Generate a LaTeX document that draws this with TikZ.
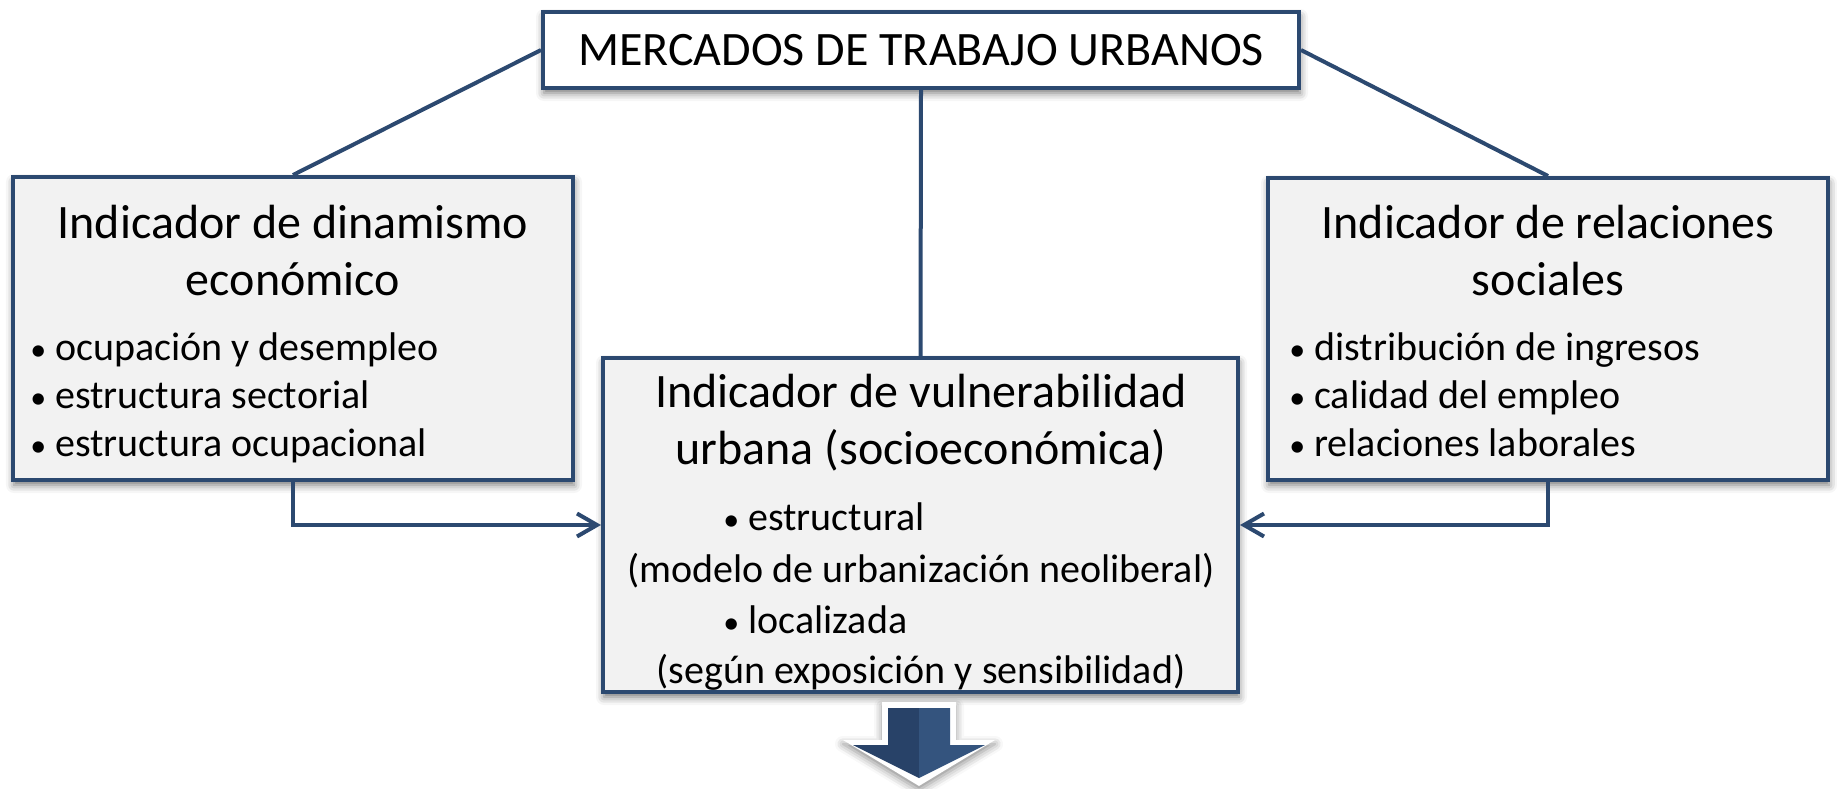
\documentclass[tikz,border=0pt]{standalone}
\usepackage{fontspec}
\setmainfont{Carlito}
\usetikzlibrary{arrows.meta,shadows.blur}
\definecolor{linecol}{RGB}{44,73,112}
\definecolor{boxfill}{RGB}{242,242,242}
\definecolor{arrowdark}{RGB}{40,66,104}
\definecolor{arrowlight}{RGB}{52,84,126}
\newcommand{\bul}{{\fontsize{16}{16}\selectfont•} }
\tikzset{
  box/.style={draw=linecol,line width=2pt,fill=boxfill,
    blur shadow={shadow xshift=0.5pt,shadow yshift=-2.5pt,shadow blur radius=4pt,shadow opacity=55}},
  title/.style={font=\fontsize{24}{28.5}\selectfont,align=center,inner sep=0pt},
  items/.style={font=\fontsize{20}{24}\selectfont,align=left,inner sep=0pt},
  line/.style={font=\fontsize{20}{24}\selectfont,inner sep=0pt},
  link/.style={draw=linecol,line width=2pt},
  feed/.style={link,-{Straight Barb[length=10pt,width=11.5pt,line width=2pt]}}
}
\begin{document}
\begin{tikzpicture}[x=0.5pt,y=-0.5pt]
  \useasboundingbox (0,0) rectangle (1837,788);
  \node[box,fill=white,minimum width=378pt,minimum height=38pt,
    font=\fontsize{24}{28.5}\selectfont] at (921,50) (mercados) {MERCADOS DE TRABAJO URBANOS};
  \node[box,minimum width=280pt,minimum height=151.5pt] at (293,328.5) (dinamismo) {};
  \node[box,minimum width=280pt,minimum height=151pt] at (1548,329) (relaciones) {};
  \node[box,minimum width=317.5pt,minimum height=167pt] at (920.5,525) (vulnerab) {};
  \node[title,anchor=base] at (293,295) (dinamtit) {Indicador de dinamismo\\económico};
  \node[items,anchor=base west] at (30,456) (dinamlist)
    {\bul ocupación y desempleo\\\bul estructura sectorial\\\bul estructura ocupacional};
  \node[title,anchor=base] at (1548,295) (relactit) {Indicador de relaciones\\sociales};
  \node[items,anchor=base west] at (1289,456) (relaclist)
    {\bul distribución de ingresos\\\bul calidad del empleo\\\bul relaciones laborales};
  \node[title,anchor=base] at (921,464) (vulntit) {Indicador de vulnerabilidad\\urbana (socioeconómica)};
  \node[line,anchor=base west] at (723,530) (estruct) {\bul estructural};
  \node[line,anchor=base] at (921,582) (modelo) {(modelo de urbanización neoliberal)};
  \node[line,anchor=base west] at (723,633) (localiz) {\bul localizada};
  \node[line,anchor=base] at (921,683) (segun) {(según exposición y sensibilidad)};
  \draw[link] (mercados.west) -- (dinamismo.north);
  \draw[link] (mercados.east) -- (relaciones.north);
  \draw[link] (mercados.south) -- (vulnerab.north);
  \draw[feed] (dinamismo.south) |- (vulnerab.west);
  \draw[feed] (relaciones.south) |- (vulnerab.east);
  \fill[white,blur shadow={shadow xshift=0pt,shadow yshift=-2pt,shadow blur radius=4pt,shadow opacity=45}]
    (882,702) -- (956,702) -- (956,740) -- (995,740) -- (919,786) -- (843,740) -- (882,740) -- cycle;
  \fill[arrowdark] (888,708) -- (919,708) -- (919,778) -- (853,745) -- (888,745) -- cycle;
  \fill[arrowlight] (950,708) -- (919,708) -- (919,778) -- (985,745) -- (950,745) -- cycle;
\end{tikzpicture}
\end{document}
